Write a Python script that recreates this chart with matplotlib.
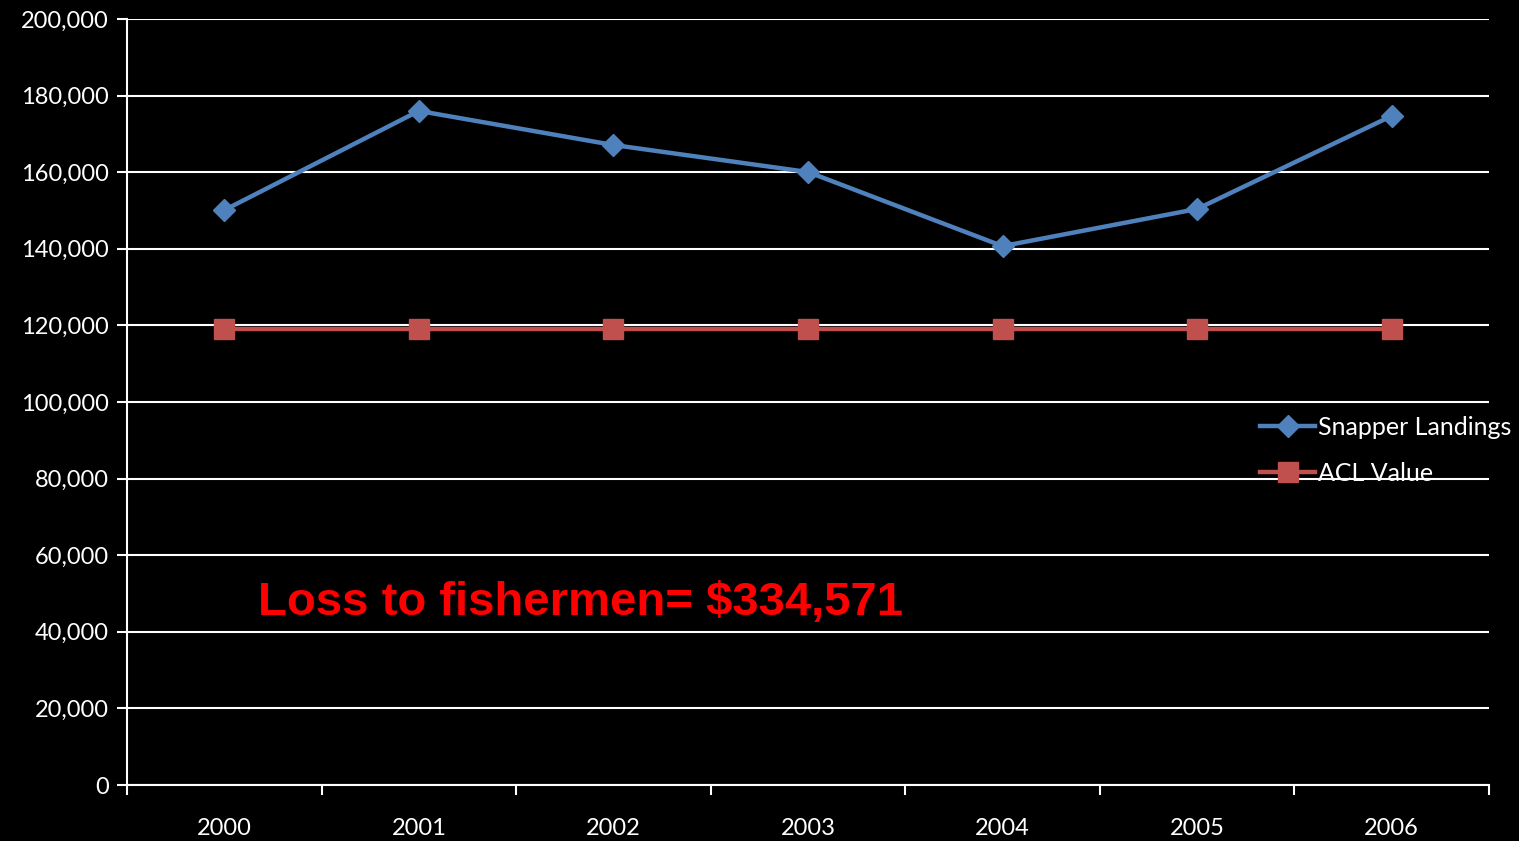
import matplotlib
matplotlib.use('Agg')
import matplotlib.pyplot as plt
from matplotlib.ticker import FuncFormatter

years = ['2000', '2001', '2002', '2003', '2004', '2005', '2006']
snapper_landings = [150100, 176000, 167100, 160050, 140700, 150400, 174700]
acl_value = [119060] * 7

plt.rcParams['font.family'] = ['Lato', 'DejaVu Sans']

fig = plt.figure(figsize=(15.19, 8.41), dpi=100, facecolor='black')
ax = fig.add_axes([127 / 1519, 56 / 841, 1362 / 1519, 766 / 841], facecolor='black')

x = list(range(len(years)))
ax.plot(x, snapper_landings, color='#4F81BD', lw=3.2, marker='D', markersize=11,
        label='Snapper Landings', zorder=4)
ax.plot(x, acl_value, color='#C0504D', lw=3.2, marker='s', markersize=14,
        label='ACL Value', zorder=3)

ax.set_xlim(-0.5, len(years) - 0.5)
ax.set_ylim(0, 200000)
ax.set_yticks(range(0, 200001, 20000))
ax.yaxis.set_major_formatter(FuncFormatter(lambda v, p: f'{int(v):,}'))
ax.grid(axis='y', color='white', lw=1.5, zorder=1)
ax.set_axisbelow(True)

ax.set_xticks([i - 0.5 for i in range(len(years) + 1)])
ax.set_xticklabels([])
ax.set_xticks(x, minor=True)
ax.set_xticklabels(years, minor=True)
ax.tick_params(axis='x', which='major', colors='white', length=7, width=1.5, direction='out')
ax.tick_params(axis='x', which='minor', length=0, labelsize=17, labelcolor='white', pad=24)
ax.tick_params(axis='y', colors='white', length=7, width=1.5, labelsize=17, pad=6)

for s in ['top', 'right']:
    ax.spines[s].set_visible(False)
for s in ['left', 'bottom']:
    ax.spines[s].set_color('white')
    ax.spines[s].set_linewidth(1.5)

ax.text(0.0965, 0.238, 'Loss to fishermen= $334,571', transform=ax.transAxes,
        color='#FF0000', fontsize=34, fontweight='bold', family='Liberation Sans',
        va='center', ha='left')

leg = ax.legend(loc='center left', bbox_to_anchor=(0.8155, 0.437), frameon=False,
                fontsize=18, labelcolor='white', handlelength=2.2, handletextpad=0.1,
                labelspacing=0.9)

fig.savefig('out.png', dpi=100, facecolor='black')
